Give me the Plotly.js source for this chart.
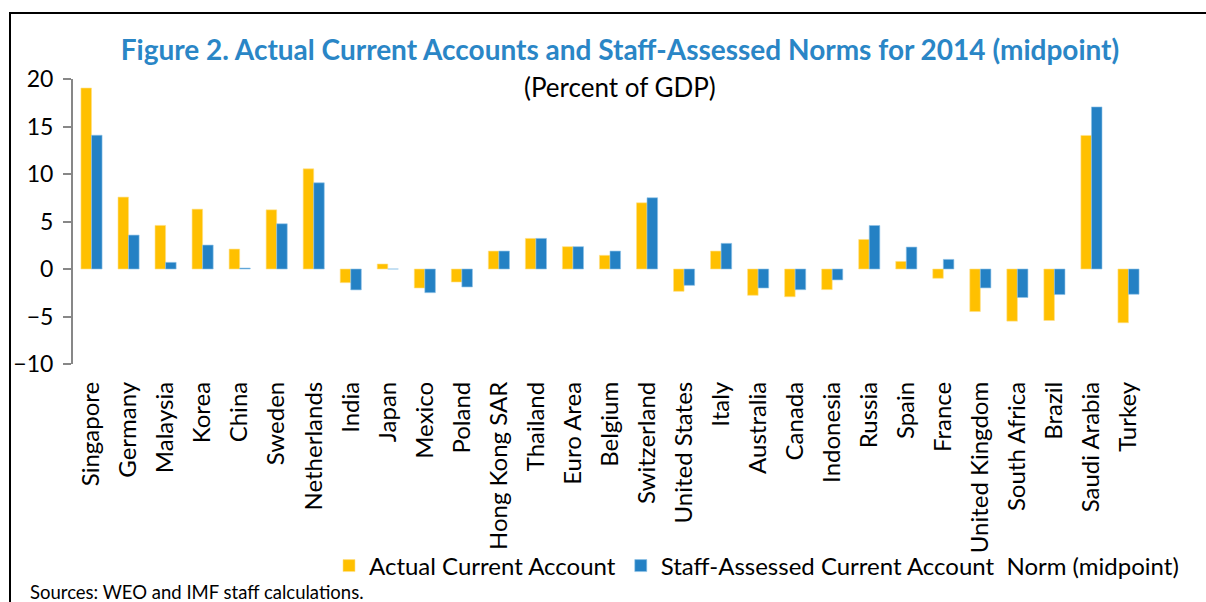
<!DOCTYPE html>
<html>
<head>
<meta charset="utf-8">
<script src="https://cdn.plot.ly/plotly-3.0.1.min.js"></script>
<style>html,body{margin:0;padding:0;background:#fff;}#chart{width:1206px;height:602px;}</style>
</head>
<body>
<div id="chart"></div>
<script>
const categories = ["Singapore","Germany","Malaysia","Korea","China","Sweden","Netherlands","India","Japan","Mexico","Poland","Hong Kong SAR","Thailand","Euro Area","Belgium","Switzerland","United States","Italy","Australia","Canada","Indonesia","Russia","Spain","France","United Kingdom","South Africa","Brazil","Saudi Arabia","Turkey"];
const actualCA = [19.05, 7.57, 4.59, 6.3, 2.1, 6.23, 10.54, -1.44, 0.53, -2.0, -1.37, 1.89, 3.22, 2.35, 1.44, 6.97, -2.35, 1.89, -2.77, -2.92, -2.17, 3.11, 0.8, -0.98, -4.48, -5.49, -5.42, 14.06, -5.66];
const normCA = [14.08, 3.57, 0.7, 2.52, 0.1, 4.76, 9.07, -2.2, 0.0, -2.49, -1.89, 1.89, 3.22, 2.35, 1.89, 7.5, -1.72, 2.7, -2.0, -2.18, -1.15, 4.58, 2.31, 1.01, -1.99, -3.0, -2.69, 17.06, -2.66];
const seriesNames = ["Actual Current Account", "Staff-Assessed Current Account\u00a0 Norm (midpoint)"];
const yTicks = [-10, -5, 0, 5, 10, 15, 20];

const FONT = "Lato, 'Open Sans', sans-serif";
const W = 1206, H = 602, L = 73, R = 59, T = 79, B = 238;
const pw = W - L - R, ph = H - T - B;
const px = x => (x - L) / pw;
const py = y => (H - B - y) / ph;

const data = [
  {type:'bar', x:categories, y:actualCA, name:seriesNames[0], marker:{color:'#FFC000', line:{color:'#FFE08A', width:0.6}}, hoverinfo:'x+y'},
  {type:'bar', x:categories, y:normCA, name:seriesNames[1], marker:{color:'#2481C4', line:{color:'#8FC3E8', width:0.6}}, hoverinfo:'x+y'}
];

const axisGray = '#878787';
const layout = {
  width:W, height:H,
  margin:{l:L, r:R, t:T, b:B, pad:0},
  paper_bgcolor:'#fff', plot_bgcolor:'#fff',
  font:{family:FONT, color:'#000', size:20},
  barmode:'group', bargap:0.43, bargroupgap:0,
  showlegend:true,
  title:{text:'Figure 2. Actual Current Accounts and Staff-Assessed Norms for 2014 (midpoint)', font:{family:FONT, size:28, color:'#2A86C6', weight:'bold'}, xref:'container', x:620/W, xanchor:'center', yref:'container', y:1-50/H, yanchor:'middle'},
  xaxis:{type:'category', categoryorder:'array', categoryarray:categories, tickangle:-90, ticks:'', showline:false, showgrid:false, zeroline:false, tickfont:{size:24, family:FONT, color:'#000'}, ticklabelstandoff:12, fixedrange:true},
  xaxis2:{overlaying:'x', anchor:'free', position:1/3, type:'linear', range:[-0.5, categories.length-0.5], tickmode:'linear', tick0:-0.5, dtick:1, ticks:'outside', ticklen:8, tickwidth:2, tickcolor:axisGray, showline:true, linecolor:axisGray, linewidth:2.5, showticklabels:false, showgrid:false, zeroline:false},
  yaxis:{range:[-10,20], tickvals:yTicks, ticks:'outside', ticklen:8, tickwidth:2, tickcolor:axisGray, showline:true, linecolor:axisGray, linewidth:2, showgrid:false, zeroline:false, tickfont:{size:23, color:'#000'}, ticklabelstandoff:5},
  yaxis2:{overlaying:'y', side:'right', anchor:'x', range:[-10,20], tickvals:yTicks, ticks:'outside', ticklen:8, tickwidth:2, tickcolor:axisGray, showline:true, linecolor:axisGray, linewidth:2, showgrid:false, zeroline:false, tickfont:{size:23, color:'#000'}, ticklabelstandoff:8},
  legend:{orientation:'h', x:px(329), xanchor:'left', y:py(566), yanchor:'middle', font:{size:24, color:'#000'}, bgcolor:'rgba(0,0,0,0)', traceorder:'normal', itemclick:false},
  annotations:[
    {text:'(Percent of GDP)', xref:'paper', yref:'paper', x:px(620), y:py(87), xanchor:'center', yanchor:'middle', showarrow:false, font:{size:26, color:'#000'}},
    {text:'Sources: WEO and IMF staff calculations.', xref:'paper', yref:'paper', x:px(28), y:py(592), xanchor:'left', yanchor:'middle', showarrow:false, font:{size:18.5, color:'#000'}}
  ],
  shapes:[
    {type:'rect', xref:'paper', yref:'paper', x0:px(10), x1:px(1215), y0:py(620), y1:py(13), line:{color:'#000', width:2}, fillcolor:'rgba(0,0,0,0)', layer:'below'}
  ]
};

Plotly.newPlot('chart', data, layout, {displayModeBar:false, staticPlot:false});
</script>
</body>
</html>
